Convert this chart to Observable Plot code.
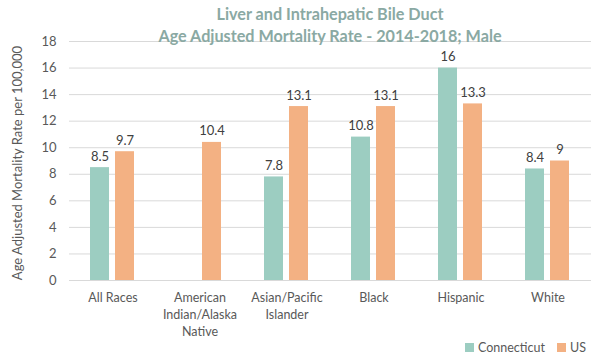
<!DOCTYPE html>
<html>
<head>
<meta charset="utf-8">
<script src="https://cdn.jsdelivr.net/npm/d3@7"></script>
<script src="https://cdn.jsdelivr.net/npm/@observablehq/plot@0.6"></script>
<style>
  body { margin: 0; background: #fff; font-family: Lato, "Open Sans", sans-serif; }
  #wrap { position: relative; width: 597px; height: 360px; }
  #title { position: absolute; left: 66px; width: 528px; top: 3px; text-align: center; color: #8aa9a3; font-weight: bold; font-size: 16.2px; line-height: 22px; }
  #ylabel { position: absolute; left: 17px; top: 163px; transform: translate(-50%, -50%) rotate(-90deg); white-space: nowrap; font-size: 13px; color: #595959; }
  #legend { position: absolute; top: 340px; left: 465px; font-size: 12.5px; color: #595959; display: flex; align-items: center; }
  #legend .sw { display: inline-block; width: 9px; height: 9px; margin-right: 4px; }
  #legend .item { display: flex; align-items: center; margin-right: 12px; }
</style>
</head>
<body>
<div id="wrap">
  <div id="chart"></div>
  <div id="title">Liver and Intrahepatic Bile Duct<br>Age Adjusted Mortality Rate - 2014-2018; Male</div>
  <div id="ylabel">Age Adjusted Mortality Rate per 100,000</div>
  <div id="legend"></div>
</div>
<script>
const races = ["All Races", "American Indian/Alaska Native", "Asian/Pacific Islander", "Black", "Hispanic", "White"];
const raceLabels = ["All Races", "American\nIndian/Alaska\nNative", "Asian/Pacific\nIslander", "Black", "Hispanic", "White"];
const series = ["Connecticut", "US"];
const connecticut = [8.5, null, 7.8, 10.8, 16, 8.4];
const us = [9.7, 10.4, 13.1, 13.1, 13.3, 9];
const colors = ["#9ccdc1", "#f3b183"];
const yTicks = [0, 2, 4, 6, 8, 10, 12, 14, 16, 18];

const data = [];
races.forEach((r, i) => {
  if (connecticut[i] != null) data.push({race: r, series: "Connecticut", value: connecticut[i]});
  if (us[i] != null) data.push({race: r, series: "US", value: us[i]});
});

const chart = Plot.plot({
  width: 597,
  height: 360,
  marginTop: 41,
  marginBottom: 80,
  marginLeft: 66,
  marginRight: 4,
  style: {fontFamily: "Lato, 'Open Sans', sans-serif", fontSize: "12.5px", color: "#595959"},
  fx: {domain: races, padding: 0, label: null},
  x: {domain: series, paddingInner: 0.23, paddingOuter: 0.81, axis: null},
  y: {domain: [0, 18], label: null},
  color: {domain: series, range: colors},
  marks: [
    Plot.gridY(yTicks, {stroke: "#d9d9d9", strokeOpacity: 1, strokeWidth: 1}),
    Plot.axisY(yTicks, {tickSize: 0, tickPadding: 13, label: null, fontSize: 13, fill: "#595959"}),
    Plot.axisFx({anchor: "bottom", tickSize: 0, tickPadding: 10, label: null, tickFormat: d => raceLabels[races.indexOf(d)], lineHeight: 1.35, fontSize: 12.5, fill: "#595959", lineAnchor: "top"}),
    Plot.barY(data, {fx: "race", x: "series", y: "value", fill: "series"}),
    Plot.text(data, {fx: "race", x: "series", y: "value", text: d => String(d.value), dy: -7, lineAnchor: "bottom", fontSize: 13, fill: "#404040"})
  ]
});
document.getElementById("chart").appendChild(chart);

const legend = document.getElementById("legend");
series.forEach((s, i) => {
  const item = document.createElement("span");
  item.className = "item";
  item.innerHTML = `<span class="sw" style="background:${colors[i]}"></span>${s}`;
  legend.appendChild(item);
});
</script>
</body>
</html>
